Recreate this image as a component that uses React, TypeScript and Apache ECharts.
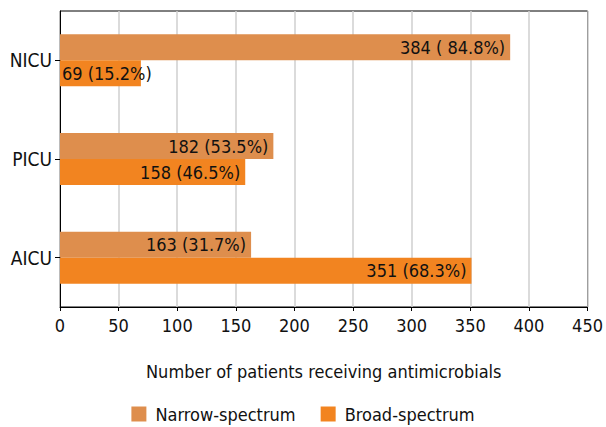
import React, { useEffect, useRef } from "react";
import * as echarts from "echarts";

const categories = ["AICU", "PICU", "NICU"];
const narrowValues = [163, 182, 384];
const broadValues = [351, 158, 69];
const narrowLabels = ["163 (31.7%)", "182 (53.5%)", "384 ( 84.8%)"];
const broadLabels = ["351 (68.3%)", "158 (46.5%)", "69 (15.2%)"];
const seriesNames = ["Narrow-spectrum", "Broad-spectrum"];

const FONT = "'Liberation Sans Narrow', 'DejaVu Sans Condensed', 'Roboto', sans-serif";
const NARROW = "#DE8E4D";
const BROAD = "#F28420";

export default function App() {
  const ref = useRef<HTMLDivElement>(null);
  useEffect(() => {
    if (!ref.current) return;
    const chart = echarts.init(ref.current, undefined, { renderer: "svg" });
    const labelBase = {
      show: true,
      position: "insideRight",
      distance: 5,
      color: "#111",
      fontSize: 18,
      fontFamily: FONT,
    };
    chart.setOption({
      animation: false,
      textStyle: { fontFamily: FONT },
      grid: {
        left: 60,
        right: 17,
        top: 11,
        bottom: 120,
        containLabel: false,
        show: true,
        borderColor: "#000",
        borderWidth: 1,
        backgroundColor: "transparent",
      },
      legend: {
        data: seriesNames,
        top: 405,
        padding: 0,
        left: "center",
        icon: "rect",
        itemWidth: 15,
        itemHeight: 15,
        itemGap: 25,
        textStyle: { fontSize: 18, color: "#111", fontFamily: FONT, padding: [0, 0, 0, 4] },
      },
      xAxis: {
        type: "value",
        min: 0,
        max: 450,
        interval: 50,
        name: "Number of patients receiving antimicrobials",
        nameLocation: "middle",
        nameGap: 55,
        nameTextStyle: { fontSize: 18, color: "#111", fontFamily: FONT },
        axisLine: { show: true, lineStyle: { color: "#000", width: 1 } },
        axisTick: { show: true, length: 4, lineStyle: { color: "#000" } },
        axisLabel: { fontSize: 18, color: "#111", margin: 9, fontFamily: FONT },
        splitLine: { show: true, lineStyle: { color: "#cfcfcf", width: 1.5 } },
      },
      yAxis: {
        type: "category",
        data: categories,
        axisLine: { show: true, lineStyle: { color: "#000", width: 1 } },
        axisTick: { show: true, length: 5, alignWithLabel: true, lineStyle: { color: "#000" } },
        axisLabel: { fontSize: 19, color: "#111", margin: 8, fontFamily: FONT },
        splitLine: { show: false },
      },
      series: [
        {
          name: seriesNames[0],
          type: "bar",
          barWidth: 26,
          barGap: "0%",
          itemStyle: { color: NARROW },
          data: narrowValues.map((v, i) => ({
            value: v,
            label: { ...labelBase, formatter: narrowLabels[i] },
          })),
        },
        {
          name: seriesNames[1],
          type: "bar",
          barWidth: 26,
          barGap: "0%",
          itemStyle: { color: BROAD },
          data: broadValues.map((v, i) => ({
            value: v,
            label:
              i === 2
                ? { ...labelBase, position: "insideLeft", distance: 2, formatter: broadLabels[i] }
                : { ...labelBase, formatter: broadLabels[i] },
          })),
        },
      ],
    });
    return () => chart.dispose();
  }, []);
  return (
    <div
      ref={ref}
      style={{ position: "fixed", left: 0, top: 0, width: 606, height: 427, background: "#fff" }}
    />
  );
}
